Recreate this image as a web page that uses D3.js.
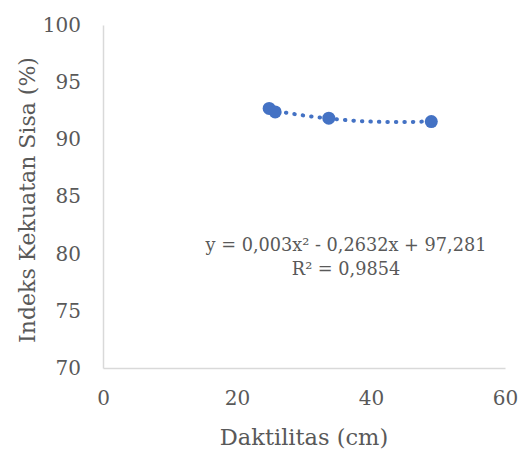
<!DOCTYPE html>
<html>
<head>
<meta charset="utf-8">
<script src="https://cdn.jsdelivr.net/npm/d3@7"></script>
<style>
  body { margin: 0; background: #fff; }
  text { font-family: "DejaVu Serif", serif; fill: #595959; }
</style>
</head>
<body>
<div id="chart"></div>
<script>
// data
var daktilitas = [24.8, 25.7, 33.7, 49.0];
var indeks = [92.7, 92.4, 91.85, 91.55];
var xTicks = [0, 20, 40, 60];
var yTicks = [70, 75, 80, 85, 90, 95, 100];
// trendline coefficients as printed on the chart (a, b, c)
var trendCoef = [0.003, -0.2632, 97.281];
var eqLines = ["y = 0,003x² - 0,2632x + 97,281", "R² = 0,9854"];

var W = 526, H = 450;
var margin = {left: 103, right: 21, top: 25, bottom: 82};
var width = W - margin.left - margin.right;
var height = H - margin.top - margin.bottom;

var svg = d3.select("#chart").append("svg")
    .attr("width", W)
    .attr("height", H);

var g = svg.append("g")
    .attr("transform", "translate(" + margin.left + "," + margin.top + ")");

var x = d3.scaleLinear().domain([0, 60]).range([0, width]);
var y = d3.scaleLinear().domain([70, 100]).range([height, 0]);

var xAxis = d3.axisBottom(x).tickValues(xTicks).tickSize(0).tickPadding(23);
var yAxis = d3.axisLeft(y).tickValues(yTicks).tickSize(0).tickPadding(22);

function styleAxis(sel) {
  sel.select(".domain").attr("stroke", "#d9d9d9").attr("stroke-width", 1.5);
  sel.selectAll(".tick text")
    .style("font-family", "'DejaVu Serif', serif")
    .style("font-size", "20px")
    .attr("fill", "#595959");
}

g.append("g")
  .attr("class", "axis axis--x")
  .attr("transform", "translate(0," + height + ")")
  .call(xAxis)
  .call(styleAxis);

g.append("g")
  .attr("class", "axis axis--y")
  .call(yAxis)
  .call(styleAxis);

// trendline over the data range
var xMin = d3.min(daktilitas), xMax = d3.max(daktilitas);
var trend = d3.range(0, 41).map(function(i) {
  var xv = xMin + (xMax - xMin) * i / 40;
  return {x: xv, y: trendCoef[0] * xv * xv + trendCoef[1] * xv + trendCoef[2]};
});

var line = d3.line()
    .x(function(d) { return x(d.x); })
    .y(function(d) { return y(d.y); });

g.append("path")
  .datum(trend)
  .attr("d", line)
  .attr("fill", "none")
  .attr("stroke", "#4472C4")
  .attr("stroke-width", 4)
  .attr("stroke-linecap", "round")
  .attr("stroke-dasharray", "0.5 8");

g.selectAll(".dot")
  .data(daktilitas)
  .enter().append("circle")
  .attr("class", "dot")
  .attr("cx", function(d) { return x(d); })
  .attr("cy", function(d, i) { return y(indeks[i]); })
  .attr("r", 6.5)
  .attr("fill", "#4472C4");

// equation label
g.append("text")
  .attr("x", 243)
  .attr("y", 226)
  .attr("text-anchor", "middle")
  .style("font-size", "17.7px")
  .selectAll("tspan")
  .data(eqLines)
  .enter().append("tspan")
  .attr("x", 243)
  .attr("dy", function(d, i) { return i == 0 ? 0 : 24; })
  .text(function(d) { return d; });

// axis titles
svg.append("text")
  .attr("x", margin.left + width / 2)
  .attr("y", 445)
  .attr("text-anchor", "middle")
  .style("font-size", "22.5px")
  .text("Daktilitas (cm)");

svg.append("text")
  .attr("transform", "translate(35," + 200 + ") rotate(-90)")
  .attr("text-anchor", "middle")
  .style("font-size", "22px")
  .text("Indeks Kekuatan Sisa (%)");
</script>
</body>
</html>
